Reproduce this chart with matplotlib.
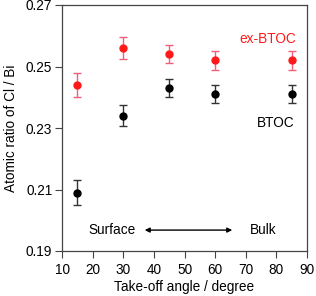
import numpy as np
import matplotlib
matplotlib.use('Agg')
import matplotlib.pyplot as plt

plt.rcParams['font.family'] = ['Liberation Sans', 'DejaVu Sans']

angle = [15, 30, 45, 60, 85]
ex_btoc = [0.244, 0.256, 0.254, 0.252, 0.252]
ex_btoc_err = [0.004, 0.0035, 0.003, 0.003, 0.003]
btoc = [0.209, 0.234, 0.243, 0.241, 0.241]
btoc_err = [0.004, 0.0034, 0.003, 0.003, 0.003]

fig = plt.figure(figsize=(3.16, 2.96), dpi=100)
ax = fig.add_axes([62/316, 45/296, 245/316, 246/296])

ax.errorbar(angle, ex_btoc, yerr=ex_btoc_err, fmt='o', color='#ff1a1a', ms=5,
            ecolor='#f0607a', elinewidth=1, capsize=3, capthick=1)
ax.errorbar(angle, btoc, yerr=btoc_err, fmt='o', color='black', ms=5,
            ecolor='#333333', elinewidth=1, capsize=3, capthick=1)

ax.set_xlim(10, 90)
ax.set_ylim(0.19, 0.27)
ax.set_xticks(np.arange(10, 91, 10))
ax.set_yticks([0.19, 0.21, 0.23, 0.25, 0.27])
ax.set_yticklabels(['0.19', '0.21', '0.23', '0.25', '0.27'])
ax.tick_params(labelsize=9.8, length=5, width=0.8, color='#444444')
ax.tick_params(axis='x', pad=4)
ax.tick_params(axis='y', pad=2)
for s in ax.spines.values():
    s.set_color('#444444')
    s.set_linewidth(0.9)

ax.set_xlabel('Take-off angle / degree', fontsize=9.8, labelpad=1.5)
ax.set_ylabel('Atomic ratio of Cl / Bi', fontsize=9.8, labelpad=6)

ax.text(77.3, 0.2588, 'ex-BTOC', color='#ff1a1a', fontsize=9.8, ha='center', va='center')
ax.text(79.7, 0.2316, 'BTOC', color='black', fontsize=9.8, ha='center', va='center')
ax.text(34, 0.1968, 'Surface', fontsize=9.8, ha='right', va='center')
ax.text(71.4, 0.1968, 'Bulk', fontsize=9.8, ha='left', va='center')
ax.annotate('', xy=(36.1, 0.1968), xytext=(66.5, 0.1968),
            arrowprops=dict(arrowstyle='<|-|>', color='black', lw=1, mutation_scale=7))

fig.savefig('out.png', dpi=100)
